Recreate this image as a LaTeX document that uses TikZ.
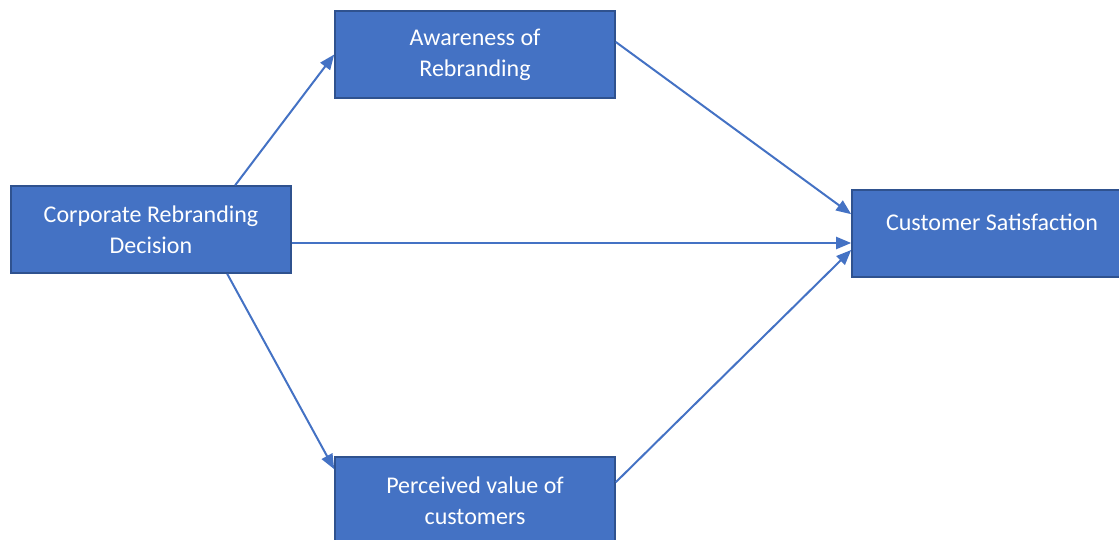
\documentclass[tikz,border=0pt]{standalone}
\usepackage{fontspec}
\setmainfont{Carlito}
\usetikzlibrary{arrows.meta}
\definecolor{boxfill}{HTML}{4472C4}
\definecolor{boxline}{HTML}{2F528F}
\definecolor{arrowcol}{HTML}{4472C4}
\tikzset{
  cbox/.style={draw=boxline, line width=1.6pt, fill=boxfill, text=white,
    minimum width=280pt, minimum height=87pt, inner sep=0pt, align=center,
    font=\fontsize{24pt}{31pt}\selectfont},
  conn/.style={draw=arrowcol, line width=2pt, -{Triangle[length=15pt,width=12pt]}}
}
\begin{document}
\begin{tikzpicture}[x=1pt,y=-1pt]
\useasboundingbox (0,0) rectangle (1119,540);
\clip (0,0) rectangle (1119,540);
\node[cbox] (A) at (151,229.5) {Corporate Rebranding\\Decision};
\node[cbox] (B) at (475,54.5) {Awareness of\\Rebranding};
\node[cbox] (C) at (475,500.5) {Perceived value of\\customers};
\node[cbox] (D) at (992,233.5) {\raisebox{3pt}[0pt][0pt]{Customer Satisfaction}};
\draw[conn] ([xshift=225pt]A.north west) -- (B.west);
\draw[conn] ([yshift=-13.5pt]A.east) -- ([yshift=-13.5pt]A.east -| D.west);
\draw[conn] ([xshift=217pt]A.south west) -- ([yshift=-13pt]C.north west);
\draw[conn] ([yshift=12.5pt]B.east) -- ([yshift=-25pt]D.north west);
\draw[conn] ([yshift=-26pt]C.north east) -- ([yshift=-16.5pt]D.west);
\end{tikzpicture}
\end{document}
